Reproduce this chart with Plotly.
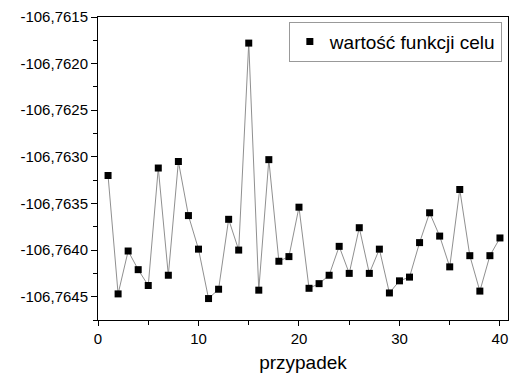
import plotly.graph_objects as go

przypadek = list(range(1, 41))
wartosc = [
    -106.76320, -106.76447, -106.76401, -106.76421, -106.76438,
    -106.76312, -106.76427, -106.76305, -106.76363, -106.76399,
    -106.76452, -106.76442, -106.76367, -106.76400, -106.76178,
    -106.76443, -106.76303, -106.76412, -106.76407, -106.76354,
    -106.76441, -106.76436, -106.76427, -106.76396, -106.76425,
    -106.76376, -106.76425, -106.76399, -106.76446, -106.76433,
    -106.76429, -106.76392, -106.76360, -106.76385, -106.76418,
    -106.76335, -106.76406, -106.76444, -106.76406, -106.76387,
]
series_name = "wartość funkcji celu"
x_title = "przypadek"
x_ticks = [0, 10, 20, 30, 40]
y_ticks = [-106.7645, -106.7640, -106.7635, -106.7630, -106.7625, -106.7620, -106.7615]
y_ticktext = [f"{v:.4f}".replace(".", ",") for v in y_ticks]

font_family = "Liberation Sans, Arial, sans-serif"

fig = go.Figure()
fig.add_trace(go.Scatter(
    x=przypadek, y=wartosc, mode="lines+markers",
    line=dict(color="#909090", width=1),
    marker=dict(symbol="square", size=7, color="black"),
    showlegend=False,
))
fig.add_trace(go.Scatter(
    x=[None], y=[None], mode="markers", name=series_name,
    marker=dict(symbol="square", size=7, color="black"),
))

fig.update_layout(
    width=511, height=376,
    margin=dict(l=98, r=3, t=17, b=56),
    paper_bgcolor="white", plot_bgcolor="white",
    font=dict(family=font_family, color="black", size=15),
    legend=dict(
        x=0.985, y=0.985, xanchor="right", yanchor="top",
        bordercolor="#999999", borderwidth=1,
        font=dict(size=19, family=font_family),
        bgcolor="white",
    ),
)
fig.update_xaxes(
    range=[0, 40.8], tickvals=x_ticks,
    showline=True, linecolor="black", linewidth=1, mirror=True,
    ticks="outside", ticklen=5, tickcolor="black",
    minor=dict(tickvals=[5, 15, 25, 35], ticks="outside", ticklen=4, tickcolor="black"),
    showgrid=False, zeroline=False,
    tickfont=dict(size=15),
    title=dict(text=x_title, font=dict(size=19), standoff=9),
)
fig.update_yaxes(
    range=[-106.76475, -106.7615], tickvals=y_ticks, ticktext=y_ticktext,
    showline=True, linecolor="black", linewidth=1, mirror=True,
    ticks="outside", ticklen=6, tickcolor="black",
    minor=dict(dtick=0.00025, ticks="outside", ticklen=4, tickcolor="black"),
    showgrid=False, zeroline=False,
    tickfont=dict(size=15),
)
fig.write_html("out.html")
